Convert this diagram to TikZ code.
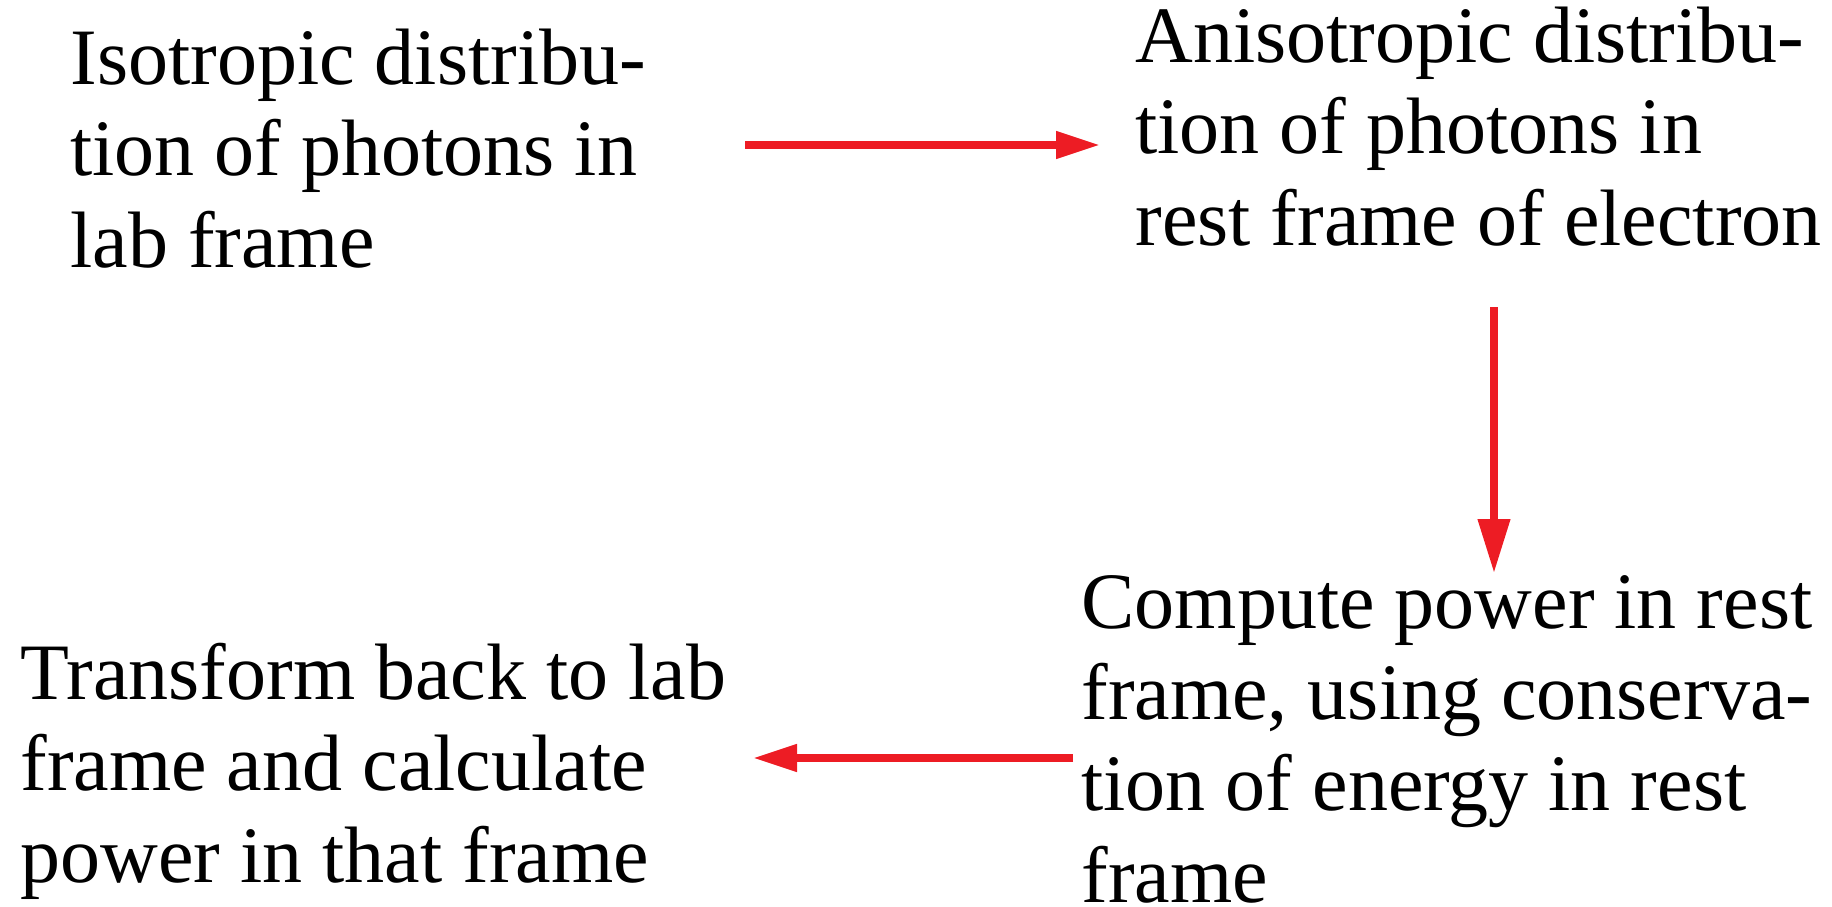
\documentclass[tikz,border=0pt]{standalone}
\usepackage{fontspec}
\setmainfont{Liberation Serif}
\usetikzlibrary{arrows.meta}
\definecolor{flowred}{HTML}{ED1C24}
\tikzset{
	blocktext/.style={anchor=base west, inner sep=0pt, align=left, font=\fontsize{40.15}{45.7}\selectfont},
	flow/.style={draw=flowred, line width=3.75bp, -{Triangle[length=22bp,width=13bp]}}
}

\begin{document}
\begin{tikzpicture}[x=0.5bp,y=-0.5bp]
\useasboundingbox (0,0) rectangle (1832,907);
% base anchor sits on the last line
\node[blocktext] (iso) at (70,267) {Isotropic distribu-\\tion of photons in\\lab frame};
\node[blocktext] (aniso) at (1135,245) {Anisotropic distribu-\\tion of photons in\\rest frame of electron};
\node[blocktext] (compute) at (1081,902) {Compute power in rest\\frame, using conserva-\\tion of energy in rest\\frame};
\node[blocktext] (back) at (20,882) {Transform back to lab\\frame and calculate\\power in that frame};
\coordinate (a1) at (745,145);
\coordinate (a2) at (1100,145);
\coordinate (b1) at (1494,307);
\coordinate (b2) at (1494,573);
\coordinate (c1) at (1073,758);
\coordinate (c2) at (753,758);
\draw [flow](a1)--(a2);
\draw [flow,-{Triangle[length=27bp,width=15.5bp]}](b1)--(b2);
\draw [flow](c1)--(c2);
\end{tikzpicture}
\end{document}
